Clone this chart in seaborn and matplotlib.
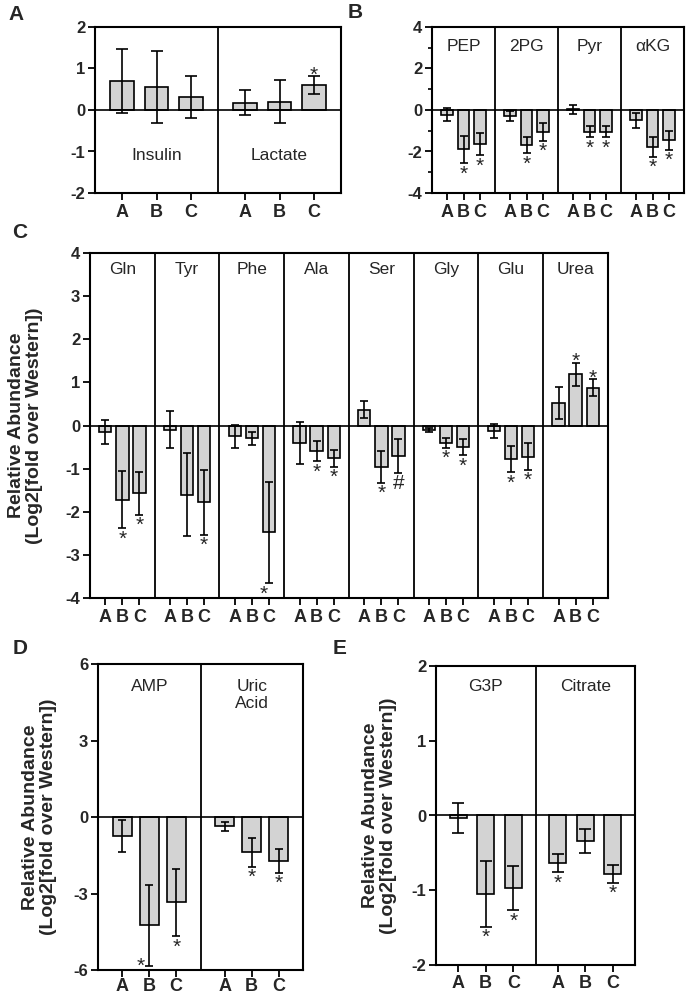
import numpy as np
import pandas as pd
import matplotlib
matplotlib.use("Agg")
import matplotlib.pyplot as plt
import seaborn as sns


abc = ["A", "B", "C"]

## panel A
a_groups = ["Insulin", "Lactate"]
a_means = [[0.70, 0.55, 0.32], [0.18, 0.20, 0.60]]
a_errs = [[0.78, 0.87, 0.51], [0.31, 0.52, 0.21]]
a_marks = [["", "", ""], ["", "", "*"]]

## panel B
b_groups = ["PEP", "2PG", "Pyr", "αKG"]
b_means = [[-0.22, -1.90, -1.64], [-0.30, -1.68, -1.05], [0.03, -1.05, -1.05], [-0.50, -1.78, -1.45]]
b_errs = [[0.30, 0.67, 0.55], [0.25, 0.40, 0.42], [0.22, 0.26, 0.26], [0.36, 0.48, 0.46]]
b_marks = [["", "*", "*"], ["", "*", "*"], ["", "*", "*"], ["", "*", "*"]]

## panel C
c_groups = ["Gln", "Tyr", "Phe", "Ala", "Ser", "Gly", "Glu", "Urea"]
c_means = [[-0.15, -1.72, -1.57], [-0.10, -1.60, -1.78], [-0.25, -0.30, -2.48], [-0.40, -0.60, -0.76],
           [0.37, -0.96, -0.71], [-0.10, -0.40, -0.50], [-0.13, -0.78, -0.72], [0.52, 1.19, 0.88]]
c_errs = [[0.27, 0.66, 0.50], [0.43, 0.96, 0.75], [0.27, 0.16, 1.17], [0.49, 0.23, 0.20],
          [0.19, 0.37, 0.39], [0.05, 0.12, 0.19], [0.16, 0.30, 0.31], [0.37, 0.27, 0.19]]
c_marks = [["", "*", "*"], ["", "", "*"], ["", "", "*"], ["", "*", "*"],
           ["", "*", "#"], ["", "*", "*"], ["", "*", "*"], ["", "*", "*"]]

## panel D
d_groups = ["AMP", "Uric\nAcid"]
d_means = [[-0.75, -4.25, -3.35], [-0.37, -1.38, -1.72]]
d_errs = [[0.62, 1.60, 1.32], [0.17, 0.57, 0.46]]
d_marks = [["", "*", "*"], ["", "*", "*"]]

## panel E
e_groups = ["G3P", "Citrate"]
e_means = [[-0.03, -1.05, -0.97], [-0.64, -0.34, -0.78]]
e_errs = [[0.20, 0.44, 0.30], [0.12, 0.16, 0.12]]
e_marks = [["", "*", "*"], ["*", "", "*"]]

BAR_COLOR = "#d3d3d3"
YLABEL = "Relative Abundance\n(Log2[fold over Western])"

sns.set_style("ticks")
plt.rcParams["font.family"] = ["Liberation Sans", "DejaVu Sans"]
plt.rcParams["axes.unicode_minus"] = False

fig = plt.figure(figsize=(6.87, 9.96), dpi=100)


def px_axes(left, top, right, bottom):
    return fig.add_axes([left / 687, 1 - bottom / 996, (right - left) / 687, (bottom - top) / 996])


def panel(ax, groups, means, errs, marks, ylim, yticks, gw, bar_w, capsize, label_top,
          minor=None, ytick_size=12, xtick_size=13, xpad=3):
    p0 = (gw - 2) / 2
    rows = []
    for g, name in enumerate(groups):
        for i in range(3):
            rows.append({"pos": g * gw + p0 + i, "val": means[g][i], "err": errs[g][i],
                         "mark": marks[g][i], "abc": abc[i]})
    df = pd.DataFrame(rows)

    sns.barplot(data=df, x="pos", y="val", native_scale=True, width=bar_w, color=BAR_COLOR,
                saturation=1, edgecolor="black", linewidth=1.2, errorbar=None, ax=ax, zorder=2)
    ax.errorbar(df["pos"], df["val"], yerr=df["err"], fmt="none", ecolor="black",
                elinewidth=1.2, capsize=capsize, capthick=1.2, zorder=3)
    ax.axhline(0, color="black", lw=1.2, zorder=2.5)
    for g in range(1, len(groups)):
        ax.axvline(g * gw, color="black", lw=1.3)

    # group names inside the box
    for g, name in enumerate(groups):
        ax.text(g * gw + p0 + 1, label_top, name, transform=ax.get_xaxis_transform(),
                ha="center", va="top", fontsize=12.5, linespacing=1.15)

    # significance marks
    for _, r in df.iterrows():
        if not r["mark"]:
            continue
        if r["val"] >= 0:
            ax.annotate(r["mark"], (r["pos"], r["val"] + r["err"]), xytext=(0, -3),
                        textcoords="offset points", ha="center", va="baseline", fontsize=15)
        elif r["val"] - r["err"] < ylim[0] + 0.05 * (ylim[1] - ylim[0]):
            ax.annotate(r["mark"], (r["pos"] - 0.3, ylim[0]), xytext=(0, -1),
                        textcoords="offset points", ha="center", va="baseline", fontsize=15)
        else:
            ax.annotate(r["mark"], (r["pos"], r["val"] - r["err"]), xytext=(0, -1),
                        textcoords="offset points", ha="center", va="top", fontsize=15)

    ax.set_xlim(0, len(groups) * gw)
    ax.set_ylim(ylim)
    ax.set_yticks(yticks)
    if minor is not None:
        ax.set_yticks(minor, minor=True)
    ax.set_xticks(df["pos"], df["abc"])
    ax.set_xlabel("")
    ax.set_ylabel("")
    ax.tick_params(axis="both", which="major", direction="out", length=5, width=1.3, color="black")
    ax.tick_params(axis="y", which="minor", direction="out", length=3, width=1.2, color="black")
    ax.tick_params(axis="x", labelsize=xtick_size, pad=xpad)
    ax.tick_params(axis="y", labelsize=ytick_size, pad=2)
    for lab in ax.get_xticklabels() + ax.get_yticklabels():
        lab.set_fontweight("bold")
    for sp in ax.spines.values():
        sp.set_linewidth(1.5)
        sp.set_color("black")


ax_a = px_axes(95, 27, 341, 193)
panel(ax_a, a_groups, a_means, a_errs, a_marks, (-2, 2), [-2, -1, 0, 1, 2], 3.6, 0.7, 4.5, 0.27)

ax_b = px_axes(432, 27, 684, 193)
panel(ax_b, b_groups, b_means, b_errs, b_marks, (-4, 4), [-4, -2, 0, 2, 4], 3.8, 0.7, 3, 0.93,
      minor=[-3, -1, 1, 3])

ax_c = px_axes(90, 253, 608, 598)
panel(ax_c, c_groups, c_means, c_errs, c_marks, (-4, 4), range(-4, 5), 3.8, 0.72, 3, 0.975)
ax_c.set_ylabel(YLABEL, fontsize=14, fontweight="bold", linespacing=1.1)
ax_c.yaxis.set_label_coords(-0.09, 0.5)

ax_d = px_axes(98, 664, 303, 970)
panel(ax_d, d_groups, d_means, d_errs, d_marks, (-6, 6), [-6, -3, 0, 3, 6], 3.8, 0.72, 3, 0.95,
      xpad=1)
ax_d.set_ylabel(YLABEL, fontsize=14, fontweight="bold", linespacing=1.1)
ax_d.yaxis.set_label_coords(-0.2, 0.5)

ax_e = px_axes(436, 666, 635, 965)
panel(ax_e, e_groups, e_means, e_errs, e_marks, (-2, 2), [-2, -1, 0, 1, 2], 3.6, 0.62, 4, 0.955,
      xpad=2)
ax_e.set_ylabel(YLABEL, fontsize=14, fontweight="bold", linespacing=1.1)
ax_e.yaxis.set_label_coords(-0.196, 0.5)

# panel letters
for letter, x, y in [("A", 16, 14), ("B", 355, 12), ("C", 20, 232), ("D", 20, 648), ("E", 340, 648)]:
    fig.text(x / 687, 1 - y / 996, letter, fontsize=15, fontweight="bold", ha="center", va="center")

fig.savefig("out.png", dpi=100)
